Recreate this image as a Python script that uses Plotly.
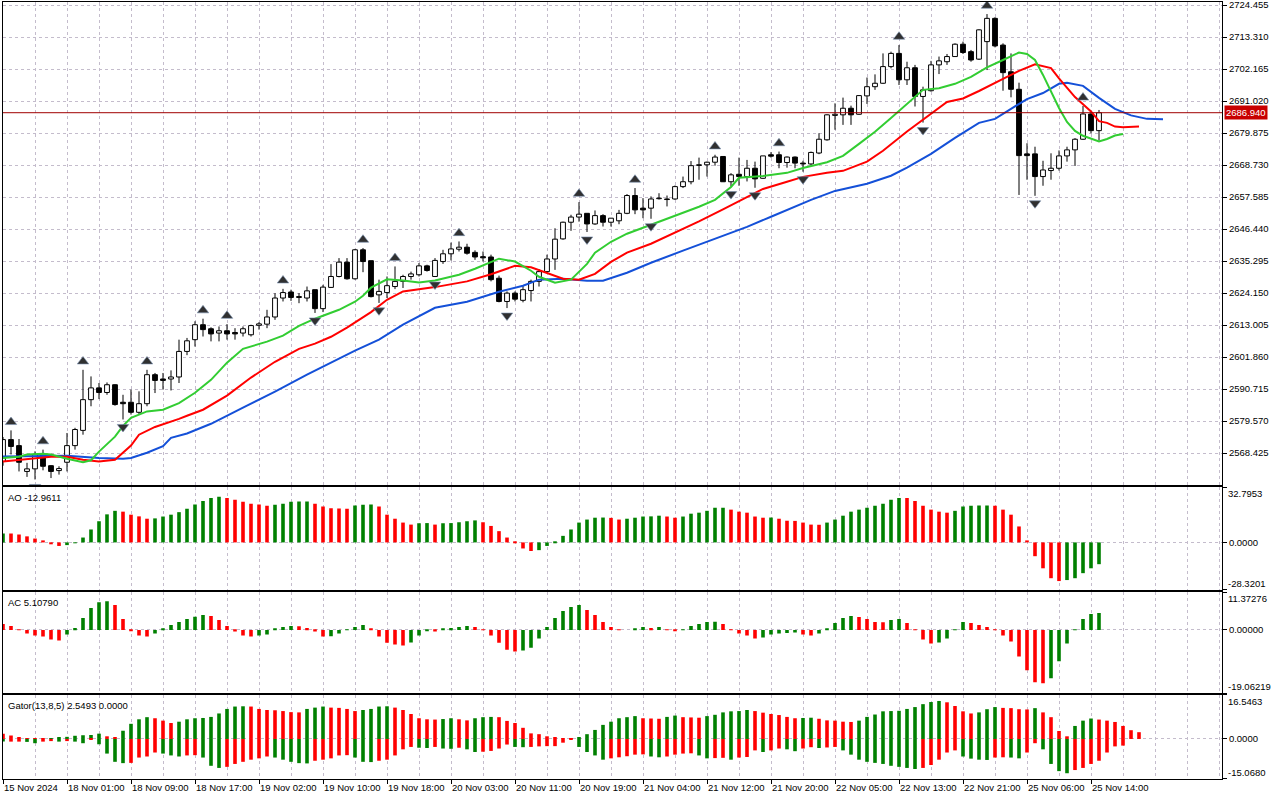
import plotly.graph_objects as go

# XAUUSD H1, bar 0 = 15 Nov 16:00, bar 137 = 25 Nov 15:00
opens = [2565.5, 2573.1, 2571.0, 2562.0, 2562.9, 2567.9, 2564.0, 2562.3, 2565.2, 2571.0,
         2576.3, 2587.0, 2591.1, 2589.5, 2592.2, 2586.1, 2586.1, 2582.6, 2585.6, 2595.7,
         2594.2, 2594.2, 2594.9, 2603.8, 2607.9, 2613.1, 2611.7, 2610.2, 2611.0, 2610.4,
         2610.2, 2609.6, 2612.9, 2613.3, 2615.8, 2622.4, 2624.5, 2622.9, 2622.4, 2625.3,
         2618.7, 2626.1, 2629.9, 2634.9, 2629.1, 2639.2, 2635.4, 2623.5, 2624.3, 2626.4,
         2628.2, 2629.9, 2630.5, 2633.6, 2629.9, 2635.1, 2637.8, 2639.4, 2640.1, 2638.3,
         2636.8, 2636.7, 2629.3, 2621.2, 2624.1, 2621.6, 2625.0, 2628.2, 2631.6, 2636.0,
         2643.0, 2648.8, 2650.6, 2651.9, 2648.2, 2651.1, 2648.8, 2649.3, 2651.9, 2658.1,
         2653.7, 2653.7, 2657.0, 2656.9, 2656.9, 2661.2, 2662.9, 2668.8, 2668.8, 2669.7,
         2671.7, 2662.9, 2665.5, 2664.7, 2667.6, 2664.1, 2672.3, 2672.3, 2669.6, 2671.5,
         2669.4, 2669.1, 2672.9, 2677.5, 2686.0, 2686.2, 2688.5, 2686.4, 2692.8, 2696.0,
         2697.2, 2703.0, 2707.6, 2698.4, 2702.6, 2692.6, 2694.6, 2703.6, 2704.7, 2706.5,
         2710.8, 2708.2, 2705.6, 2711.7, 2719.8, 2710.5, 2701.2, 2695.1, 2672.6, 2672.6,
         2664.7, 2666.8, 2667.6, 2671.9, 2674.0, 2677.7, 2686.5, 2680.7]
highs = [2574.0, 2576.3, 2573.3, 2565.0, 2569.0, 2569.6, 2564.2, 2563.8, 2575.4, 2577.2,
         2597.4, 2595.1, 2592.8, 2593.0, 2592.4, 2588.7, 2590.5, 2589.9, 2597.4, 2596.3,
         2596.3, 2597.2, 2607.9, 2608.5, 2614.3, 2615.2, 2612.2, 2612.5, 2613.3, 2611.9,
         2612.5, 2613.1, 2614.0, 2618.3, 2624.1, 2625.6, 2625.3, 2624.1, 2626.4, 2625.3,
         2627.0, 2634.2, 2636.3, 2636.3, 2639.5, 2639.8, 2635.4, 2628.8, 2629.9, 2633.4,
         2630.5, 2631.6, 2634.6, 2634.0, 2636.3, 2639.2, 2641.7, 2642.1, 2641.3, 2639.0,
         2638.6, 2637.5, 2630.2, 2624.7, 2624.7, 2626.7, 2628.8, 2632.5, 2637.5, 2646.7,
         2649.0, 2651.4, 2655.8, 2651.9, 2652.9, 2651.6, 2650.2, 2653.1, 2658.6, 2660.7,
         2657.2, 2657.8, 2658.9, 2658.1, 2661.6, 2664.7, 2670.1, 2671.3, 2669.9, 2672.3,
         2671.7, 2665.9, 2671.3, 2670.5, 2669.9, 2671.9, 2673.2, 2673.4, 2671.7, 2671.7,
         2670.2, 2673.4, 2679.8, 2686.4, 2690.2, 2692.2, 2689.4, 2693.1, 2699.2, 2700.3,
         2707.6, 2708.2, 2710.5, 2704.7, 2703.6, 2696.0, 2705.0, 2706.5, 2707.4, 2711.1,
         2711.7, 2708.8, 2716.0, 2721.3, 2720.2, 2711.1, 2707.6, 2697.4, 2676.3, 2675.1,
         2670.2, 2672.8, 2673.8, 2675.1, 2678.1, 2689.3, 2687.3, 2687.9]
lows = [2564.0, 2567.9, 2562.0, 2560.1, 2559.2, 2562.4, 2559.7, 2560.9, 2562.0, 2569.6,
        2574.8, 2584.7, 2587.2, 2588.7, 2584.9, 2580.1, 2581.8, 2581.8, 2584.7, 2589.3,
        2590.5, 2590.2, 2592.8, 2602.5, 2605.5, 2609.0, 2607.3, 2607.3, 2607.9, 2607.9,
        2609.0, 2609.0, 2611.4, 2611.9, 2614.8, 2621.2, 2621.4, 2620.6, 2621.2, 2617.2,
        2617.5, 2625.9, 2629.6, 2628.8, 2628.8, 2631.4, 2622.6, 2620.7, 2622.4, 2625.5,
        2625.9, 2628.8, 2629.9, 2631.6, 2629.7, 2634.3, 2635.5, 2638.6, 2637.5, 2635.7,
        2635.1, 2628.2, 2620.9, 2618.9, 2621.2, 2620.9, 2621.2, 2626.4, 2631.3, 2632.2,
        2642.7, 2645.8, 2649.0, 2645.4, 2647.9, 2647.3, 2647.3, 2648.1, 2651.6, 2651.6,
        2650.2, 2650.0, 2656.7, 2654.3, 2656.6, 2660.7, 2662.0, 2663.6, 2664.7, 2668.5,
        2662.8, 2661.2, 2661.5, 2663.0, 2660.8, 2663.9, 2671.3, 2667.6, 2667.8, 2667.6,
        2666.4, 2668.5, 2672.5, 2677.2, 2681.0, 2682.7, 2682.7, 2686.2, 2690.0, 2694.9,
        2697.0, 2702.4, 2696.6, 2696.6, 2689.1, 2683.5, 2694.3, 2700.4, 2703.6, 2706.5,
        2707.4, 2704.7, 2705.3, 2701.8, 2709.7, 2694.6, 2692.3, 2658.3, 2663.6, 2658.0,
        2661.5, 2663.6, 2666.8, 2669.9, 2668.4, 2677.5, 2679.8, 2677.2]
closes = [2573.1, 2570.7, 2565.2, 2562.9, 2567.9, 2563.8, 2562.0, 2563.0, 2571.0, 2576.6,
          2587.0, 2591.1, 2589.5, 2592.2, 2585.3, 2585.6, 2582.6, 2585.6, 2595.7, 2593.7,
          2593.7, 2594.9, 2603.8, 2607.5, 2613.1, 2611.4, 2609.9, 2611.0, 2609.9, 2609.9,
          2611.7, 2612.8, 2613.4, 2615.8, 2622.4, 2624.3, 2622.6, 2622.6, 2624.9, 2618.7,
          2626.2, 2629.9, 2634.9, 2629.1, 2639.2, 2635.1, 2622.9, 2624.7, 2626.7, 2628.2,
          2629.9, 2630.8, 2633.6, 2632.0, 2635.5, 2637.8, 2639.5, 2640.1, 2638.0, 2636.7,
          2636.4, 2628.8, 2621.2, 2624.1, 2622.0, 2625.3, 2628.2, 2631.6, 2636.0, 2642.9,
          2648.8, 2650.6, 2651.6, 2648.2, 2651.1, 2648.8, 2650.2, 2651.9, 2658.1, 2653.1,
          2653.1, 2656.9, 2657.2, 2656.7, 2661.2, 2662.9, 2668.5, 2668.6, 2669.7, 2671.5,
          2662.9, 2665.3, 2664.7, 2667.6, 2663.9, 2671.9, 2671.8, 2669.6, 2671.5, 2669.4,
          2669.1, 2673.1, 2677.7, 2686.2, 2686.4, 2688.5, 2686.2, 2692.9, 2696.0, 2697.2,
          2703.0, 2707.6, 2698.4, 2702.6, 2692.6, 2694.9, 2703.6, 2705.0, 2706.5, 2710.8,
          2707.9, 2705.3, 2715.8, 2719.8, 2710.2, 2700.9, 2695.1, 2672.0, 2672.0, 2664.7,
          2667.0, 2667.6, 2671.9, 2674.0, 2677.7, 2686.5, 2680.7, 2686.94]

time_labels = ['15 Nov 2024', '18 Nov 01:00', '18 Nov 09:00', '18 Nov 17:00', '19 Nov 02:00',
               '19 Nov 10:00', '19 Nov 18:00', '20 Nov 03:00', '20 Nov 11:00', '20 Nov 19:00',
               '21 Nov 04:00', '21 Nov 12:00', '21 Nov 20:00', '22 Nov 05:00', '22 Nov 13:00',
               '22 Nov 21:00', '25 Nov 06:00', '25 Nov 14:00']

price_ticks = [2724.455, 2713.310, 2702.165, 2691.020, 2679.875, 2668.730, 2657.585, 2646.440,
               2635.295, 2624.150, 2613.005, 2601.860, 2590.715, 2579.570, 2568.425]
last_price = 2686.940

# fractals (bar numbers)
up_fractals = [1, 5, 10, 18, 25, 28, 35, 45, 49, 57, 72, 79, 89, 97, 112, 123, 135]
down_fractals = [4, 15, 39, 47, 54, 63, 73, 81, 91, 94, 100, 115, 129]

# alligator lines (already shifted forward)
jaw_x = [0, 4, 8, 12, 15, 16, 18, 20, 21, 23, 26, 30, 34, 38, 42, 44, 47, 50, 54, 58, 62, 65, 67,
         70, 73, 75, 78, 81, 85, 89, 93, 96, 99, 101, 104, 108, 111, 113, 116, 119, 122, 124,
         126, 128, 130, 132, 133, 135, 137, 139, 141, 143, 145]
jaw_y = [2567.2, 2567.3, 2567.5, 2566.7, 2566.4, 2566.7, 2568.5, 2570.8, 2573.7, 2575.2, 2578.6,
         2584.2, 2589.8, 2595.7, 2601.3, 2604.1, 2607.9, 2613.1, 2619.0, 2621.1, 2624.6, 2626.7,
         2628.8, 2629.1, 2628.4, 2628.4, 2631.2, 2634.7, 2638.9, 2643.0, 2647.2, 2650.7, 2654.2,
         2656.6, 2659.7, 2662.2, 2665.0, 2667.8, 2672.6, 2678.2, 2683.4, 2684.8, 2688.3, 2691.7,
         2693.8, 2697.0, 2697.4, 2696.3, 2692.1, 2688.3, 2686.0, 2684.8, 2684.7]
teeth_x = [0, 4, 6, 8, 10, 12, 14, 16, 17, 19, 21, 22, 23, 25, 28, 31, 34, 37, 39, 41, 43, 45, 46,
           48, 50, 54, 58, 61, 64, 66, 68, 70, 72, 74, 76, 78, 81, 84, 87, 90, 93, 95, 98, 100,
           103, 105, 108, 110, 113, 116, 118, 120, 122, 125, 127, 129, 131, 132, 134, 136, 137,
           138, 139, 140, 142]
teeth_y = [2565.5, 2566.4, 2567.1, 2567.1, 2566.1, 2565.5, 2566.1, 2571.0, 2574.8, 2577.5, 2579.3,
           2580.3, 2581.4, 2583.5, 2588.4, 2594.7, 2600.2, 2604.7, 2606.5, 2608.9, 2612.1, 2615.9,
           2617.5, 2621.8, 2624.7, 2626.2, 2628.2, 2630.7, 2633.6, 2633.1, 2631.2, 2629.1, 2628.8,
           2630.8, 2635.0, 2638.2, 2641.3, 2645.1, 2649.1, 2653.3, 2657.5, 2660.4, 2662.9, 2664.6,
           2666.0, 2666.7, 2669.9, 2673.7, 2680.4, 2686.5, 2690.7, 2691.9, 2694.5, 2698.7, 2701.5,
           2703.8, 2702.5, 2698.9, 2692.4, 2687.4, 2684.0, 2683.4, 2682.1, 2681.9, 2682.1]
lips_x = [0, 2, 3, 5, 6, 8, 10, 11, 12, 14, 15, 16, 18, 20, 22, 23, 24, 26, 28, 30, 33, 35, 37, 39,
          42, 44, 45, 46, 48, 50, 52, 54, 57, 59, 62, 64, 66, 67, 69, 71, 73, 74, 76, 78, 81, 84,
          87, 89, 91, 92, 95, 98, 100, 103, 105, 107, 109, 111, 113, 115, 117, 119, 121, 123, 125,
          127, 128, 129, 130, 131, 132, 133, 134, 135, 137, 138, 139, 140]
lips_y = [2566.7, 2567.1, 2567.9, 2568.2, 2567.9, 2566.4, 2565.2, 2565.9, 2568.9, 2574.1, 2577.9,
          2580.7, 2582.9, 2583.5, 2585.8, 2587.5, 2589.4, 2593.9, 2599.9, 2604.7, 2607.2, 2609.3,
          2612.7, 2615.2, 2618.3, 2621.1, 2623.2, 2626.0, 2628.9, 2628.5, 2627.8, 2628.5, 2630.5,
          2632.6, 2636.1, 2635.1, 2631.9, 2629.8, 2627.7, 2628.8, 2634.3, 2638.2, 2642.0, 2644.8,
          2647.9, 2651.0, 2654.2, 2656.6, 2661.1, 2664.3, 2664.9, 2666.0, 2667.7, 2669.7, 2671.9,
          2676.1, 2680.3, 2685.1, 2690.0, 2694.9, 2695.5, 2697.0, 2699.4, 2702.7, 2705.3, 2707.9,
          2707.4, 2705.3, 2700.1, 2694.5, 2688.6, 2683.7, 2680.6, 2678.9, 2676.9, 2677.8, 2679.0,
          2679.5]

# Awesome Oscillator
ao = [5.3, 5.3, 4.7, 3.6, 2.3, 1.2, -0.8, -2.1, -1.6, -0.4, 2.9, 7.7, 12.6, 16.7, 18.8, 18.3,
      16.5, 15.5, 14.1, 14.3, 15.4, 16.5, 18.0, 20.0, 22.6, 24.7, 26.5, 27.1, 26.5, 25.4, 24.2,
      23.0, 22.6, 21.8, 22.4, 23.0, 24.2, 24.3, 24.4, 23.0, 21.3, 20.4, 20.2, 20.0, 22.0, 22.4,
      22.5, 21.4, 16.5, 14.1, 11.8, 10.6, 11.4, 11.5, 10.6, 11.4, 11.5, 12.0, 12.6, 13.1, 12.0,
      9.8, 6.7, 2.9, 0.2, -3.6, -5.1, -4.6, -2.1, 0.6, 3.9, 7.7, 11.8, 13.6, 14.7, 14.8, 14.6,
      13.6, 14.1, 14.7, 15.4, 15.5, 15.9, 15.4, 14.7, 15.4, 17.1, 17.7, 18.8, 20.6, 20.7, 19.5,
      18.3, 17.7, 15.4, 14.7, 14.8, 14.1, 12.9, 12.8, 11.8, 10.6, 10.5, 11.8, 13.6, 15.9, 18.3,
      19.5, 20.6, 21.8, 23.0, 25.4, 26.5, 26.4, 24.7, 21.8, 19.5, 18.3, 17.7, 18.8, 21.3, 21.8,
      21.9, 22.0, 21.8, 19.5, 16.5, 9.5, 1.2, -8.2, -15.4, -21.3, -23.0, -22.4, -21.3, -18.3,
      -15.4, -12.9611]

# Accelerator Oscillator
ac = [1.8, 1.2, -0.1, -1.1, -1.7, -2.0, -2.9, -3.2, -1.4, 0.6, 3.6, 6.6, 8.4, 8.7, 7.5, 3.3,
      -0.2, -1.7, -2.0, -1.1, 0.3, 1.5, 2.4, 3.3, 4.0, 4.5, 4.2, 3.0, 1.2, -0.5, -1.7, -2.0,
      -1.7, -1.4, 0.3, 0.9, 1.2, 1.1, 0.6, -0.5, -2.0, -1.9, -1.1, 0.05, 0.9, 1.5, 0.3, -2.0,
      -3.9, -4.4, -4.7, -3.8, -1.7, -0.4, -0.5, 0.3, 0.6, 0.9, 1.2, 0.9, -0.1, -1.7, -3.9, -6.0,
      -6.5, -6.2, -5.4, -2.6, 0.9, 3.6, 5.7, 6.9, 7.5, 6.0, 4.5, 2.4, 0.9, -0.1, 0.0, 0.2, 0.9,
      0.6, 0.9, -0.1, -0.2, 0.05, 1.2, 1.8, 2.4, 2.5, 1.8, -0.1, -1.1, -1.7, -2.6, -2.3, -1.4,
      -1.1, -0.9, -0.8, -1.4, -1.7, -1.1, 0.3, 2.1, 3.6, 4.2, 3.9, 3.3, 2.4, 2.3, 3.0, 3.3, 2.1,
      -0.1, -2.9, -4.1, -3.8, -2.6, 0.05, 2.4, 2.1, 1.5, 0.9, -0.1, -1.7, -3.5, -8.0, -12.2,
      -15.8, -16.1, -14.6, -9.5, -4.1, 0.05, 3.3, 4.8, 5.1079]

# Gator Oscillator (upper: jaw-teeth, lower: teeth-lips)
gator_up = [2.0, 1.3, 0.7, 0.3, 0.2, 0.1, 0.3, 0.5, 0.8, 1.2, 1.4, 1.5, 2.0, 1.0, 0.4, 3.1, 5.7,
            7.4, 8.2, 7.8, 6.9, 6.0, 6.5, 7.4, 7.8, 7.9, 8.3, 9.6, 11.3, 12.2, 12.3, 12.2, 11.3,
            10.9, 10.8, 10.5, 10.1, 10.0, 11.3, 11.8, 12.2, 11.8, 11.7, 11.3, 10.5, 10.9, 11.3,
            12.2, 12.3, 11.8, 10.9, 9.4, 7.8, 7.4, 7.3, 7.5, 7.8, 7.4, 7.0, 7.8, 8.2, 8.3, 8.2,
            6.8, 6.0, 4.2, 2.1, 1.8, 1.0, 0.7, 0.3, 0.2, 0.7, 1.8, 3.4, 5.3, 6.5, 7.8, 8.2, 8.6,
            7.8, 7.7, 7.6, 8.3, 8.8, 8.2, 8.1, 8.0, 8.6, 9.1, 10.0, 10.4, 10.5, 10.9, 10.5, 9.9,
            9.4, 9.0, 8.3, 7.8, 7.9, 8.0, 7.6, 7.0, 6.9, 6.5, 6.4, 6.9, 8.3, 9.2, 10.4, 10.5, 10.6,
            11.3, 12.0, 13.1, 13.9, 14.3, 13.8, 12.4, 10.4, 9.6, 10.0, 11.2, 12.0, 11.7, 11.6,
            11.2, 11.1, 11.6, 10.0, 8.2, 3.0, 1.0, 4.9, 6.9, 7.7, 7.3, 6.9, 6.4, 4.9, 3.3, 2.5493]
gator_down = [-1.0, -1.0, -1.0, -1.1, -1.6, -1.0, -0.8, -1.0, -0.8, -1.0, -1.6, -0.1, -2.0, -5.5,
              -8.6, -9.1, -9.0, -7.0, -6.6, -5.1, -5.5, -6.2, -6.6, -6.2, -6.1, -7.0, -10.1,
              -10.9, -10.5, -9.4, -8.6, -7.8, -7.3, -6.6, -7.0, -7.8, -8.6, -9.1, -9.2, -8.2,
              -7.8, -7.3, -6.2, -6.1, -7.0, -8.6, -8.7, -8.2, -7.8, -6.2, -3.9, -3.0, -3.3, -3.4,
              -3.0, -3.6, -3.7, -3.3, -3.9, -4.9, -4.8, -4.5, -3.6, -2.1, -3.0, -3.1, -3.0, -2.8,
              -2.7, -2.7, -1.4, -0.1, -3.0, -4.9, -6.2, -7.8, -7.3, -6.9, -6.5, -5.9, -5.8, -6.6,
              -6.9, -6.6, -5.9, -5.5, -5.4, -6.2, -7.3, -7.2, -7.1, -7.8, -7.0, -6.8, -4.3, -4.9,
              -4.3, -3.6, -3.9, -4.6, -3.6, -3.1, -3.4, -3.2, -3.0, -4.3, -5.9, -7.8, -8.6, -9.0,
              -9.4, -10.1, -10.5, -10.9, -11.3, -10.9, -9.8, -7.8, -5.1, -4.3, -6.6, -7.4, -7.8,
              -7.9, -7.0, -6.9, -7.0, -7.3, -5.1, -1.6, -3.9, -9.4, -12.1, -12.9, -11.7, -10.9,
              -9.4, -8.2, -5.1, -2.8, -2.5]

GREEN = '#008000'
RED = '#ff0000'
GRID = '#c4bccc'
FONT = dict(family='Liberation Sans, Arial, sans-serif', size=9.5, color='black')


def up_down_colors(vals, first, by_abs=False):
    cols = [first]
    for k in range(1, len(vals)):
        a, b = vals[k], vals[k - 1]
        if by_abs:
            a, b = abs(a), abs(b)
        cols.append(GREEN if a > b else RED)
    return cols


bars = list(range(len(closes)))
fig = go.Figure()

# candle wicks (split above / below body so they do not cross white bodies)
wx, wy = [], []
for i in bars:
    top = max(opens[i], closes[i])
    bot = min(opens[i], closes[i])
    wx += [i, i, None, i, i, None]
    wy += [top, highs[i], None, lows[i], bot, None]
fig.add_trace(go.Scatter(x=wx, y=wy, mode='lines', line=dict(color='black', width=1),
                         xaxis='x', yaxis='y', hoverinfo='skip'))

# candle bodies
body_base = [min(o, c) for o, c in zip(opens, closes)]
body_h = [max(abs(c - o), 0.12) for o, c in zip(opens, closes)]
body_col = ['white' if c >= o else 'black' for o, c in zip(opens, closes)]
fig.add_trace(go.Bar(x=bars, y=body_h, base=body_base, width=0.6,
                     marker=dict(color=body_col, line=dict(color='black', width=1)),
                     xaxis='x', yaxis='y', hoverinfo='skip'))

# alligator
for xs, ys, col in [(jaw_x, jaw_y, '#1450d8'), (teeth_x, teeth_y, '#ff0000'),
                    (lips_x, lips_y, '#32cd32')]:
    fig.add_trace(go.Scatter(x=xs, y=ys, mode='lines', line=dict(color=col, width=2),
                             xaxis='x', yaxis='y', hoverinfo='skip'))

# fractals
fig.add_trace(go.Scatter(x=up_fractals, y=[highs[i] + 2.9 for i in up_fractals], mode='markers',
                         marker=dict(symbol='triangle-up', size=10, color='#303030',
                                     line=dict(color='#7890b0', width=0.6)),
                         xaxis='x', yaxis='y', hoverinfo='skip'))
fig.add_trace(go.Scatter(x=down_fractals, y=[lows[i] - 2.6 for i in down_fractals], mode='markers',
                         marker=dict(symbol='triangle-down', size=10, color='#303030',
                                     line=dict(color='#7890b0', width=0.6)),
                         xaxis='x', yaxis='y', hoverinfo='skip'))

# AO / AC
fig.add_trace(go.Bar(x=bars, y=ao, width=0.45, marker=dict(color=up_down_colors(ao, GREEN), line_width=0),
                     xaxis='x2', yaxis='y2', hoverinfo='skip'))
fig.add_trace(go.Bar(x=bars, y=ac, width=0.45, marker=dict(color=up_down_colors(ac, RED), line_width=0),
                     xaxis='x3', yaxis='y3', hoverinfo='skip'))

# Gator
fig.add_trace(go.Bar(x=list(range(len(gator_up))), y=gator_up, width=0.45,
                     marker=dict(color=up_down_colors(gator_up, RED, True), line_width=0),
                     xaxis='x4', yaxis='y4', hoverinfo='skip'))
fig.add_trace(go.Bar(x=list(range(len(gator_down))), y=gator_down, width=0.45,
                     marker=dict(color=up_down_colors(gator_down, GREEN, True), line_width=0),
                     xaxis='x4', yaxis='y4', hoverinfo='skip'))

xr = [0, 152.375]
tick_pos = [8 * k for k in range(len(time_labels))]
xcommon = dict(range=xr, showline=True, linecolor='black', linewidth=1, mirror=True,
               tickvals=tick_pos, showgrid=True, gridcolor=GRID, griddash='3px,3px', gridwidth=1,
               minor=dict(tickmode='linear', tick0=0, dtick=4, showgrid=True, gridcolor=GRID,
                          griddash='3px,3px', gridwidth=1),
               zeroline=False, fixedrange=True, automargin=False, tickangle=0,
               ticklabeloverflow='allow')

ycommon = dict(side='right', showline=True, linecolor='black', linewidth=1, mirror=True,
               ticks='outside', ticklen=4, tickcolor='black', tickfont=FONT, automargin=False,
               showgrid=True, gridcolor=GRID, griddash='3px,3px', zeroline=False,
               ticklabeloverflow='allow', fixedrange=True)

panels = {
    'y2': (-28.3201, 32.7953, ['-28.3201', '0.0000', '32.7953'], [0.24324, 0.37542]),
    'y3': (-19.06219, 11.37276, ['-19.06219', '0.00000', '11.37276'], [0.11068, 0.24028]),
    'y4': (-15.0680, 16.5463, ['-15.0680', '0.0000', '16.5463'], [0.0, 0.10811]),
}

layout = dict(
    width=1280, height=800,
    margin=dict(l=3, r=58, t=2, b=21, autoexpand=False),
    paper_bgcolor='white', plot_bgcolor='white',
    showlegend=False, barmode='overlay', hovermode=False,
    font=FONT,
    xaxis=dict(xcommon, anchor='y', showticklabels=False, ticks=''),
    xaxis2=dict(xcommon, anchor='y2', matches='x', showticklabels=False, ticks=''),
    xaxis3=dict(xcommon, anchor='y3', matches='x', showticklabels=False, ticks=''),
    xaxis4=dict(xcommon, anchor='y4', matches='x', ticktext=time_labels, ticks='outside',
                ticklen=4, tickcolor='black', tickfont=FONT, ticklabelposition='outside right'),
    yaxis=dict(ycommon, anchor='x', domain=[0.37838, 1.0], range=[2557.28, 2725.50],
               tickvals=price_ticks, ticktext=['%.3f' % p for p in price_ticks]),
)

annotations = []
for name, (lo, hi, labels, dom) in panels.items():
    key = 'yaxis' + name[1:]
    layout[key] = dict(ycommon, anchor='x' + name[1:], domain=dom, range=[lo, hi],
                       tickvals=[lo, 0, hi], ticktext=['', labels[1], ''])
    annotations.append(dict(xref='paper', yref='paper', x=1, y=dom[1], xanchor='left', yanchor='top',
                            xshift=4, yshift=1, text=labels[2], showarrow=False, font=FONT))
    annotations.append(dict(xref='paper', yref='paper', x=1, y=dom[0], xanchor='left',
                            yanchor='bottom', xshift=4, yshift=-1, text=labels[0], showarrow=False,
                            font=FONT))

titles = [('AO %.4f' % ao[-1], 0.37542), ('AC %.5f' % ac[-1], 0.24028),
          ('Gator(13,8,5) %.4f %.4f' % (gator_up[-1], 0.0), 0.10811)]
for txt, ytop in titles:
    annotations.append(dict(xref='paper', yref='paper', x=0, y=ytop, xanchor='left', yanchor='top',
                            xshift=3, yshift=-3, text=txt, showarrow=False, font=FONT))

# last price label
annotations.append(dict(xref='paper', yref='y', x=1, y=last_price, xanchor='left', yanchor='middle',
                        xshift=2, text='%.3f' % last_price, showarrow=False,
                        font=dict(FONT, color='white'), bgcolor='#c80000', borderpad=1))
layout['annotations'] = annotations

layout['shapes'] = [dict(type='line', xref='x domain', yref='y', x0=0, x1=1, y0=last_price,
                         y1=last_price, line=dict(color='#a00000', width=1))]

fig.update_layout(layout)
fig.write_html('out.html', config={'displayModeBar': False},
               post_script="document.body.style.margin='0';")
